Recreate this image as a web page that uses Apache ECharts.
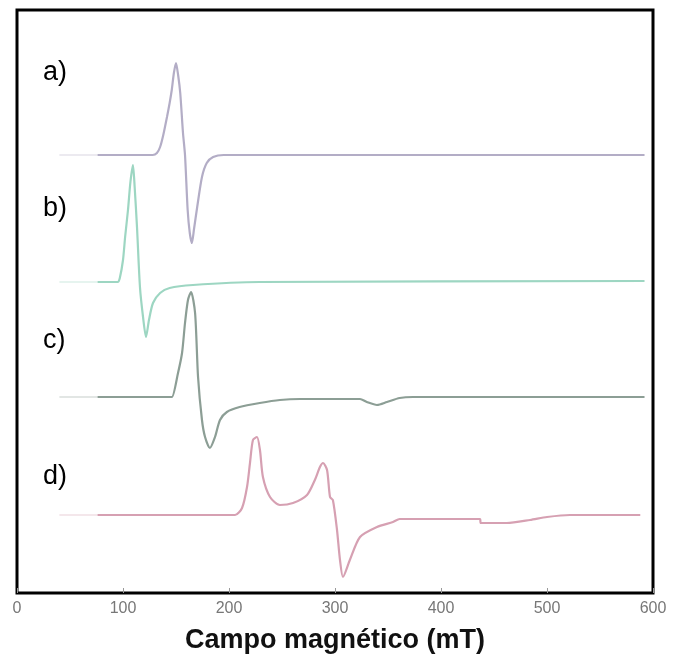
<!DOCTYPE html>
<html>
<head>
<meta charset="utf-8">
<script src="https://cdn.jsdelivr.net/npm/echarts@6/dist/echarts.min.js"></script>
<style>html,body{margin:0;padding:0;background:#fff}#c{width:674px;height:660px}</style>
</head>
<body>
<div id="c"></div>
<script>
// Field ticks (mT)
const xTicks = [0, 100, 200, 300, 400, 500, 600];
// Spectrum labels and vertical offsets (arbitrary intensity units)
const labels = ['a)', 'b)', 'c)', 'd)'];
const offsets = [438, 311, 196, 78];
const labelY = [75, 211, 343, 479];
// Spectra: [field mT, relative intensity]
const specA = [[76,0],[128,0],[132,2],[135,8],[138,20],[141.5,38],[144,52],[146,65],[148,82],[150,92],[152,80],[154,62],[156.6,22],[158.5,0],[161,-55],[163,-78],[165,-88],[167,-74],[170,-52],[174.5,-22],[179,-8],[185,-2],[195,0],[592,0]];
const specB = [[76,0],[95,0],[97,4],[100,22],[102,45],[104.7,72],[107,100],[109.4,117],[111,95],[113.2,55],[116,-5],[118.9,-35],[121.7,-55],[124.5,-38],[128.3,-21],[135,-11],[144,-6],[166,-3],[229,0],[592,1]];
const specC = [[76,0],[144.3,0],[146.2,0],[151.9,24],[155.7,44],[158.5,74],[161.3,97],[164.2,105],[168,84],[170.8,20],[174.5,-23],[177.4,-40],[182,-51],[186.8,-40],[191.5,-23],[198,-15],[210,-10],[229,-6],[248,-3],[267,-2],[323.6,-2],[330,-5],[339.6,-8],[349,-5],[361,-1],[373.6,0],[592,0]];
const specD = [[76,0],[205.7,0],[212.3,7],[217,28],[219.8,52],[222.6,75],[226.4,78],[229.2,65],[232,38],[238.7,18],[248,10],[260.4,12],[273.6,20],[281,35],[285.8,48],[288.7,52],[292.5,45],[295.3,18],[298,15],[301.9,-15],[304.7,-45],[307.5,-62],[314,-45],[323.6,-22],[339.6,-12],[354.7,-7],[361,-4],[436.8,-4],[437.5,-8],[462,-8],[484,-5],[500,-2],[521.7,0],[588,0]];
// faint lead-in traces left of the scan start
const leadIn = [[40,0],[76,0]];

const colors = ['#b3adc6', '#9dd6c2', '#8c9e95', '#d6a0b2'];
const spectra = [specA, specB, specC, specD];

const series = [];
spectra.forEach((s, i) => {
  series.push({
    type: 'line', showSymbol: false, smooth: 0.25, silent: true,
    data: s.map(p => [p[0], p[1] + offsets[i]]),
    lineStyle: {color: colors[i], width: 2.2}
  });
  series.push({
    type: 'line', showSymbol: false, silent: true,
    data: leadIn.map(p => [p[0], p[1] + offsets[i]]),
    lineStyle: {color: colors[i], width: 1, opacity: 0.5}
  });
});

const chart = echarts.init(document.getElementById('c'), null, {renderer: 'canvas'});
chart.setOption({
  animation: false,
  backgroundColor: '#fff',
  grid: {left: 17, right: 21, top: 10, bottom: 67, show: true, borderColor: '#000', borderWidth: 3, backgroundColor: 'transparent'},
  xAxis: {
    type: 'value', min: 0, max: 600, interval: 100,
    axisLine: {show: false},
    axisTick: {show: true, inside: true, length: 5, lineStyle: {color: '#999'}},
    splitLine: {show: false},
    axisLabel: {color: '#777', fontSize: 16, fontFamily: 'Liberation Sans', margin: 8},
    name: 'Campo magnético (mT)', nameLocation: 'middle', nameGap: 34,
    nameTextStyle: {color: '#111', fontSize: 27, fontWeight: 'bold', fontFamily: 'Liberation Sans'}
  },
  yAxis: {
    type: 'value', min: 0, max: 583,
    axisLine: {show: false}, axisTick: {show: false}, axisLabel: {show: false}, splitLine: {show: false}
  },
  graphic: labels.map((t, i) => ({
    type: 'text', left: 43, top: labelY[i] - 16,
    style: {text: t, fontSize: 27, fontFamily: 'Liberation Sans', fill: '#000'}
  })),
  series: series
});
</script>
</body>
</html>
